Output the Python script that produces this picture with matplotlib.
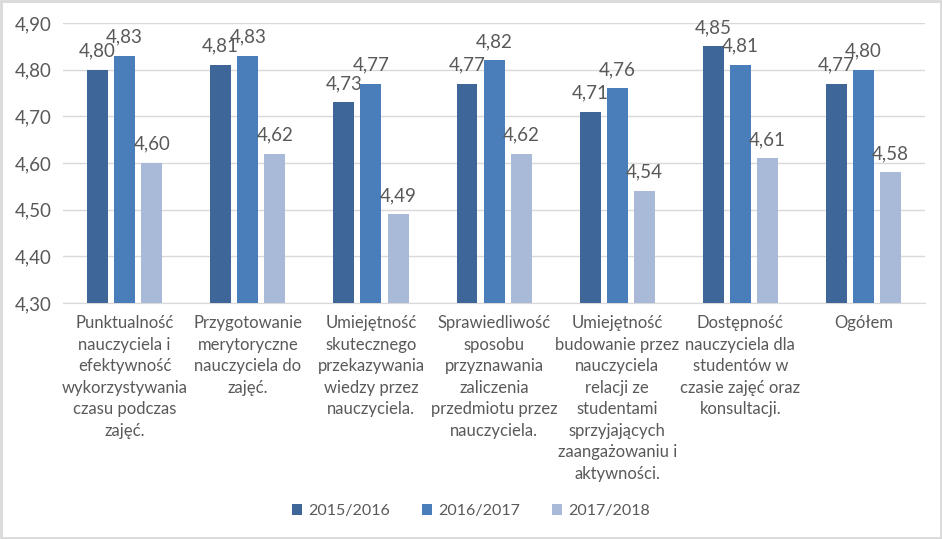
import matplotlib

matplotlib.use("Agg")
import matplotlib.pyplot as plt
import numpy as np
from matplotlib.ticker import FuncFormatter

plt.rcParams["font.family"] = ["Lato", "DejaVu Sans"]

kategorie = [
    "Punktualność\nnauczyciela i\nefektywność\nwykorzystywania\nczasu podczas\nzajęć.",
    "Przygotowanie\nmerytoryczne\nnauczyciela do\nzajęć.",
    "Umiejętność\nskutecznego\nprzekazywania\nwiedzy przez\nnauczyciela.",
    "Sprawiedliwość\nsposobu\nprzyznawania\nzaliczenia\nprzedmiotu przez\nnauczyciela.",
    "Umiejętność\nbudowanie przez\nnauczyciela\nrelacji ze\nstudentami\nsprzyjających\nzaangażowaniu i\naktywności.",
    "Dostępność\nnauczyciela dla\nstudentów w\nczasie zajęć oraz\nkonsultacji.",
    "Ogółem",
]
lata = ["2015/2016", "2016/2017", "2017/2018"]
w_2015 = [4.80, 4.81, 4.73, 4.77, 4.71, 4.85, 4.77]
w_2016 = [4.83, 4.83, 4.77, 4.82, 4.76, 4.81, 4.80]
w_2017 = [4.60, 4.62, 4.49, 4.62, 4.54, 4.61, 4.58]
kolory = ["#3F6698", "#4A7EBB", "#A9BAD8"]

TEKST = "#595959"

fig = plt.figure(figsize=(9.42, 5.39), dpi=100)
ax = fig.add_axes([0.067, 0.438, 0.915, 0.519])

x = np.arange(len(kategorie))
szer = 0.17
krok = 0.22
for k, (seria, kolor, rok) in enumerate(zip([w_2015, w_2016, w_2017], kolory, lata)):
    pos = x + (k - 1) * krok
    ax.bar(pos, np.array(seria) - 4.30, bottom=4.30, width=szer, color=kolor, label=rok, zorder=3)
    for xi, v in zip(pos, seria):
        ax.annotate(f"{v:.2f}".replace(".", ","), (xi, v), xytext=(0, 7.5), textcoords="offset points",
                    ha="center", va="bottom", fontsize=13.5, color=TEKST)

ax.set_ylim(4.30, 4.90)
ax.set_xlim(-0.5, len(kategorie) - 0.5)
ax.set_yticks(np.arange(4.30, 4.901, 0.10))
ax.yaxis.set_major_formatter(FuncFormatter(lambda v, p: f"{v:.2f}".replace(".", ",")))
ax.grid(axis="y", color="#D9D9D9", linewidth=1, zorder=0)
for s in ["top", "right", "left"]:
    ax.spines[s].set_visible(False)
ax.spines["bottom"].set_color("#D9D9D9")
ax.tick_params(axis="y", length=0, labelsize=13.5, labelcolor=TEKST, pad=8)
ax.tick_params(axis="x", length=0, labelsize=12, labelcolor=TEKST, pad=9)
ax.set_xticks(x)
ax.set_xticklabels(kategorie, linespacing=1.42, va="top")

ax.legend(loc="lower center", bbox_to_anchor=(0.5, 0.012), bbox_transform=fig.transFigure,
          ncol=3, frameon=False, fontsize=11.5, labelcolor=TEKST, handlelength=0.6,
          handleheight=0.6, handletextpad=0.4, columnspacing=2.0)

fig.patches.append(plt.Rectangle((0.001, 0.001), 0.998, 0.997, transform=fig.transFigure,
                                 fill=False, edgecolor="#D9D9D9", linewidth=2))

fig.savefig("out.png", dpi=100)
